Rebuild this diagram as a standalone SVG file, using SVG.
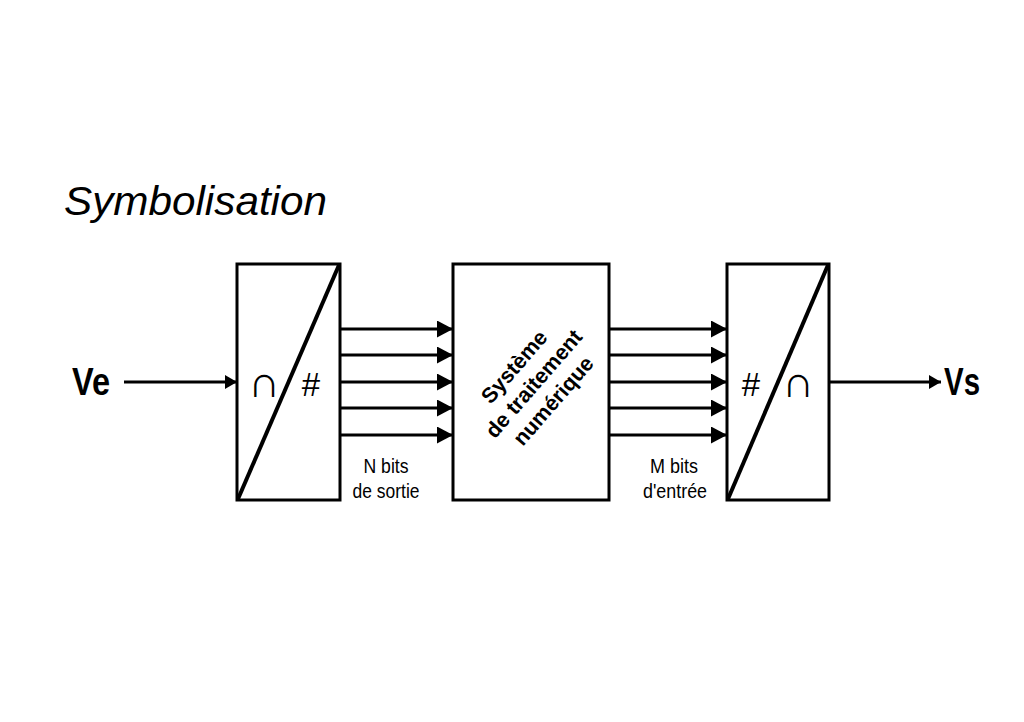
<svg xmlns="http://www.w3.org/2000/svg" width="1024" height="722" viewBox="0 0 1024 722">
<style>
.box{fill:#fff;stroke:#000;stroke-width:3}
.diag{stroke:#000;stroke-width:4;fill:none}
.wire{stroke:#000;stroke-width:3;fill:none}
.sans{font-family:"Liberation Sans",Arial,sans-serif;fill:#000}
.big{font-size:39px;font-weight:bold}
.small{font-size:20px;text-anchor:middle}
.sym{font-family:"Liberation Sans","DejaVu Sans",sans-serif;font-size:44px;text-anchor:middle;fill:#000}
.hash{font-family:"Liberation Sans",Arial,sans-serif;font-size:33px;text-anchor:middle;fill:#000}
</style>
<defs>
<marker id="ah" markerUnits="userSpaceOnUse" markerWidth="17" markerHeight="17" refX="16" refY="8.5" orient="auto">
<path d="M0,0 L16,8.5 L0,17 Z" fill="#000"/>
</marker>
<marker id="ah2" markerUnits="userSpaceOnUse" markerWidth="14" markerHeight="16" refX="12" refY="7" orient="auto">
<path d="M0,0 L12,7 L0,14 Z" fill="#000"/>
</marker>
</defs>
<rect width="1024" height="722" fill="#fff"/>
<text class="sans" x="64" y="215" font-size="41" font-style="italic" textLength="263" lengthAdjust="spacingAndGlyphs">Symbolisation</text>

<g id="connectors">
<line class="wire" x1="124" y1="382" x2="237" y2="382" marker-end="url(#ah2)"/>
<line class="wire" x1="340" y1="329" x2="453" y2="329" marker-end="url(#ah)"/>
<line class="wire" x1="340" y1="355" x2="453" y2="355" marker-end="url(#ah)"/>
<line class="wire" x1="340" y1="382" x2="453" y2="382" marker-end="url(#ah)"/>
<line class="wire" x1="340" y1="408" x2="453" y2="408" marker-end="url(#ah)"/>
<line class="wire" x1="340" y1="435" x2="453" y2="435" marker-end="url(#ah)"/>
<line class="wire" x1="609" y1="329" x2="727" y2="329" marker-end="url(#ah)"/>
<line class="wire" x1="609" y1="355" x2="727" y2="355" marker-end="url(#ah)"/>
<line class="wire" x1="609" y1="382" x2="727" y2="382" marker-end="url(#ah)"/>
<line class="wire" x1="609" y1="408" x2="727" y2="408" marker-end="url(#ah)"/>
<line class="wire" x1="609" y1="435" x2="727" y2="435" marker-end="url(#ah)"/>
<line class="wire" x1="829" y1="382" x2="941" y2="382" marker-end="url(#ah2)"/>
</g>

<g id="ve">
<text class="sans big" x="72" y="395" textLength="38" lengthAdjust="spacingAndGlyphs">Ve</text>
</g>
<g id="vs">
<text class="sans big" x="944" y="395" textLength="36" lengthAdjust="spacingAndGlyphs">Vs</text>
</g>

<g id="adc">
<rect class="box" x="237" y="264" width="103" height="236"/>
<line class="diag" x1="238" y1="499" x2="339" y2="265"/>
<text class="sym" x="264" y="397">∩</text>
<text class="hash" x="311" y="396">#</text>
</g>

<g id="dsp">
<rect class="box" x="453" y="264" width="156" height="236"/>
<g transform="translate(534,384) rotate(-49)" class="sans" font-size="21.5" font-weight="bold" text-anchor="middle">
<text x="0" y="-19">Système</text>
<text x="0" y="7">de traitement</text>
<text x="0" y="33">numérique</text>
</g>
</g>

<g id="dac">
<rect class="box" x="727" y="264" width="102" height="236"/>
<line class="diag" x1="728" y1="499" x2="828" y2="265"/>
<text class="hash" x="751" y="396">#</text>
<text class="sym" x="798" y="397">∩</text>
</g>

<g id="labels">
<text class="sans small" x="386" y="473" textLength="45" lengthAdjust="spacingAndGlyphs">N bits</text>
<text class="sans small" x="386" y="498" textLength="67" lengthAdjust="spacingAndGlyphs">de sortie</text>
<text class="sans small" x="674" y="473" textLength="48" lengthAdjust="spacingAndGlyphs">M bits</text>
<text class="sans small" x="675" y="498" textLength="64" lengthAdjust="spacingAndGlyphs">d'entrée</text>
</g>
</svg>
